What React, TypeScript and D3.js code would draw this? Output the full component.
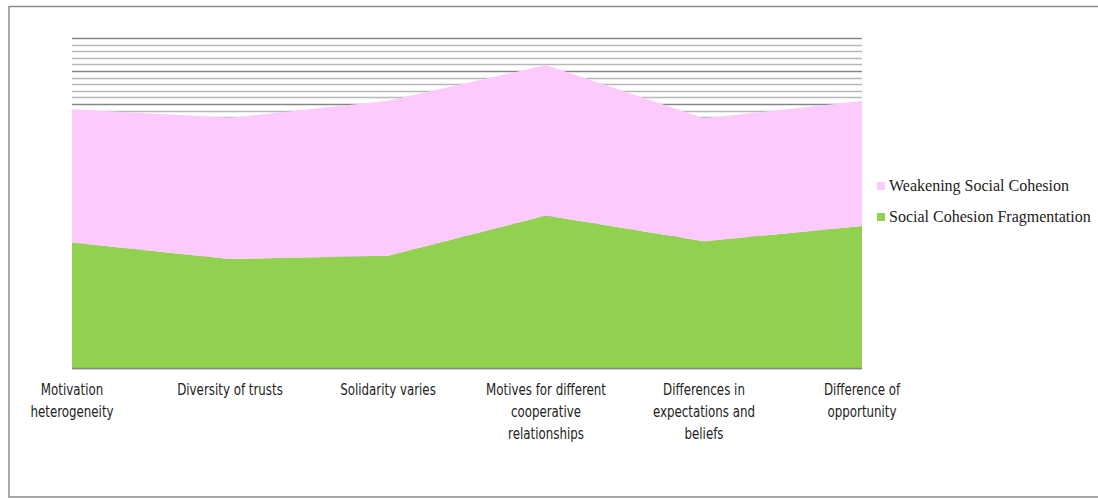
import React from "react";
import * as d3 from "d3";

const categories = [
  "Motivation heterogeneity",
  "Diversity of trusts",
  "Solidarity varies",
  "Motives for different cooperative relationships",
  "Differences in expectations and beliefs",
  "Difference of opportunity",
];
const tickLabelLines = [
  ["Motivation", "heterogeneity"],
  ["Diversity of trusts"],
  ["Solidarity varies"],
  ["Motives for different", "cooperative", "relationships"],
  ["Differences in", "expectations and", "beliefs"],
  ["Difference of", "opportunity"],
];
const fragmentation = [38.0, 33.0, 34.0, 46.2, 38.4, 43.0];
const weakening = [40.4, 42.8, 47.0, 45.6, 37.3, 37.9];
const seriesNames = ["Social Cohesion Fragmentation", "Weakening Social Cohesion"];
const seriesColors = ["#92D050", "#FCCAFC"];
const yMax = 100;
const majorStep = 10;
const minorStep = 2;

export default function App() {
  const W = 1098, H = 499;
  const left = 72, right = 862, top = 38, bottom = 368;
  const x = d3.scalePoint<string>().domain(categories).range([left, right]).padding(0);
  const y = d3.scaleLinear().domain([0, yMax]).range([bottom, top]);

  const rows = categories.map((c, i) => ({ cat: c, a: fragmentation[i], b: weakening[i] }));
  const stack = d3.stack<any>().keys(["a", "b"]);
  const layers = stack(rows);
  const area = d3
    .area<any>()
    .x((d) => x(d.data.cat) as number)
    .y0((d) => y(d[0]))
    .y1((d) => y(d[1]));

  const minorTicks = d3.range(0, yMax + 0.001, minorStep);
  const legendItems = [
    { name: seriesNames[1], color: seriesColors[1] },
    { name: seriesNames[0], color: seriesColors[0] },
  ];

  return (
    <svg
      width={W}
      height={H}
      style={{ position: "absolute", left: 0, top: 0, background: "#fff" }}
    >
      <rect x={9} y={6.5} width={1095} height={490.5} fill="#fff" stroke="#8a8a8a" strokeWidth={1.5} />
      {minorTicks.map((t, i) => {
        const major = Math.abs(t % majorStep) < 1e-6;
        return (
          <line
            key={i}
            x1={left}
            x2={right}
            y1={Math.round(y(t)) + 0.5}
            y2={Math.round(y(t)) + 0.5}
            stroke={major ? "#868686" : "#b8b8b8"}
            strokeWidth={1.3}
          />
        );
      })}
      {layers.map((layer, i) => (
        <path key={i} d={area(layer) as string} fill={seriesColors[i]} />
      ))}
      <line x1={left} x2={right} y1={bottom + 0.5} y2={bottom + 0.5} stroke="#878787" strokeWidth={1.5} />
      {categories.map((c, i) => (
        <g key={c} transform={`translate(${x(c) as number}, 395) scale(0.85, 1)`}>
          <text
            x={0}
            y={0}
            textAnchor="middle"
            fontFamily="'DejaVu Sans Condensed', 'DejaVu Sans', sans-serif"
            fontSize={15.5}
            fill="#222"
          >
            {tickLabelLines[i].map((ln, j) => (
              <tspan key={j} x={0} dy={j === 0 ? 0 : 22}>
                {ln}
              </tspan>
            ))}
          </text>
        </g>
      ))}
      {legendItems.map((it, i) => (
        <g key={it.name} transform={`translate(877, ${186 + i * 31})`}>
          <rect x={0} y={-4} width={8} height={8} fill={it.color} />
          <text
            x={12}
            y={5}
            fontFamily="'Liberation Serif', 'Times New Roman', serif"
            fontSize={16}
            fill="#222"
          >
            {it.name}
          </text>
        </g>
      ))}
    </svg>
  );
}
